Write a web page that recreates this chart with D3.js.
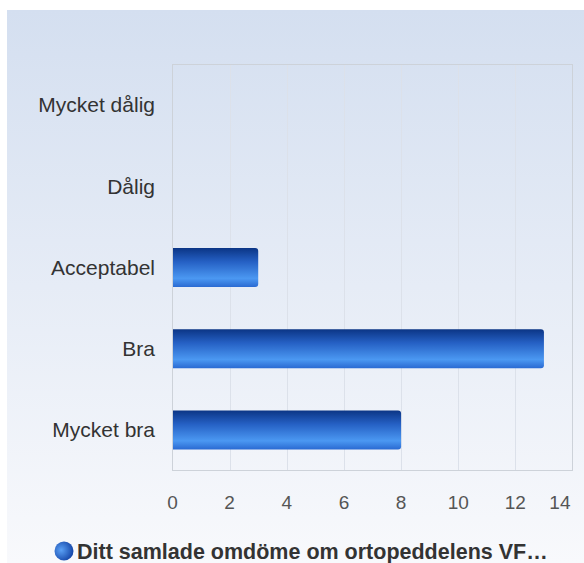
<!DOCTYPE html>
<html>
<head>
<meta charset="utf-8">
<script src="https://cdn.jsdelivr.net/npm/d3@7"></script>
<style>
    body { margin: 0; background: #fff; }
    text { font-family: "Liberation Sans", Arial, sans-serif; }
</style>
</head>
<body>
<div id="chart"></div>
<script>
// data
var categories = ["Mycket dålig", "Dålig", "Acceptabel", "Bra", "Mycket bra"];
var values = [0, 0, 3, 13, 8];
var xTicks = [0, 2, 4, 6, 8, 10, 12, 14];
var seriesName = "Ditt samlade omdöme om ortopeddelens VF…";

var W = 584, H = 563;
var plot = { left: 172.5, top: 64.5, right: 572.5, bottom: 470.5 };

var svg = d3.select("#chart")
    .append("svg")
    .attr("width", W)
    .attr("height", H);

var defs = svg.append("defs");

// background panel gradient
var bg = defs.append("linearGradient")
    .attr("id", "bgGrad")
    .attr("x1", 0).attr("y1", 0).attr("x2", 0).attr("y2", 1);
bg.append("stop").attr("offset", "0%").attr("stop-color", "#d4dff0");
bg.append("stop").attr("offset", "100%").attr("stop-color", "#f8f9fc");

// bar gradient (vertical, dark top, light lower part)
var bg2 = defs.append("linearGradient")
    .attr("id", "barGrad")
    .attr("x1", 0).attr("y1", 0).attr("x2", 0).attr("y2", 1);
bg2.append("stop").attr("offset", "0%").attr("stop-color", "#0b3585");
bg2.append("stop").attr("offset", "35%").attr("stop-color", "#2560c4");
bg2.append("stop").attr("offset", "78%").attr("stop-color", "#4b98f2");
bg2.append("stop").attr("offset", "100%").attr("stop-color", "#2a6ad2");

// legend marker
var mk = defs.append("radialGradient")
    .attr("id", "markGrad")
    .attr("cx", "35%").attr("cy", "45%").attr("r", "65%");
mk.append("stop").attr("offset", "0%").attr("stop-color", "#5aa0f5");
mk.append("stop").attr("offset", "100%").attr("stop-color", "#1546a8");

svg.append("rect")
    .attr("x", 7)
    .attr("y", 10)
    .attr("width", W - 7)
    .attr("height", H - 10)
    .attr("fill", "url(#bgGrad)");

var x = d3.scaleLinear()
    .domain([0, 14])
    .range([plot.left, plot.right]);

var y = d3.scaleBand()
    .domain(categories)
    .range([plot.top, plot.bottom])
    .paddingInner(0.52)
    .paddingOuter(0.26);

// gridlines
svg.append("g")
    .selectAll("line")
    .data(xTicks.slice(1, -1))
    .enter()
    .append("line")
    .attr("x1", d => Math.round(x(d)) + 0.5)
    .attr("x2", d => Math.round(x(d)) + 0.5)
    .attr("y1", plot.top)
    .attr("y2", plot.bottom)
    .attr("stroke", "#dce1ea")
    .attr("stroke-width", 1);

// plot border
svg.append("rect")
    .attr("x", plot.left)
    .attr("y", plot.top)
    .attr("width", plot.right - plot.left)
    .attr("height", plot.bottom - plot.top)
    .attr("fill", "none")
    .attr("stroke", "#cdd2d9")
    .attr("stroke-width", 1);

// bars, flat at the axis and rounded at the end
var r = 3;
svg.append("g")
    .selectAll("path")
    .data(categories.map((c, i) => ({ cat: c, v: values[i] })).filter(d => d.v > 0))
    .enter()
    .append("path")
    .attr("d", function(d) {
        var x0 = x(0) + 0.5, x1 = x(d.v), y0 = y(d.cat), h = y.bandwidth();
        return "M" + x0 + "," + y0 +
            "H" + (x1 - r) +
            "Q" + x1 + "," + y0 + " " + x1 + "," + (y0 + r) +
            "V" + (y0 + h - r) +
            "Q" + x1 + "," + (y0 + h) + " " + (x1 - r) + "," + (y0 + h) +
            "H" + x0 + "Z";
    })
    .attr("fill", "url(#barGrad)");

// category labels
svg.append("g")
    .selectAll("text")
    .data(categories)
    .enter()
    .append("text")
    .attr("x", 155)
    .attr("y", d => y(d) + y.bandwidth() / 2)
    .attr("dy", "0.35em")
    .attr("text-anchor", "end")
    .attr("font-size", "21px")
    .attr("fill", "#333")
    .text(d => d);

// x tick labels
svg.append("g")
    .selectAll("text")
    .data(xTicks)
    .enter()
    .append("text")
    .attr("x", (d, i) => i == xTicks.length - 1 ? x(d) - 2 : x(d))
    .attr("y", 502)
    .attr("dy", "0.35em")
    .attr("text-anchor", (d, i) => i == xTicks.length - 1 ? "end" : "middle")
    .attr("font-size", "19px")
    .attr("fill", "#555")
    .text(d => d);

// legend
var legend = svg.append("g");
legend.append("circle")
    .attr("cx", 64)
    .attr("cy", 551)
    .attr("r", 9.5)
    .attr("fill", "url(#markGrad)");
legend.append("text")
    .attr("x", 77)
    .attr("y", 551)
    .attr("dy", "0.35em")
    .attr("font-size", "21.5px")
    .attr("font-weight", "bold")
    .attr("fill", "#333")
    .text(seriesName);
</script>
</body>
</html>
